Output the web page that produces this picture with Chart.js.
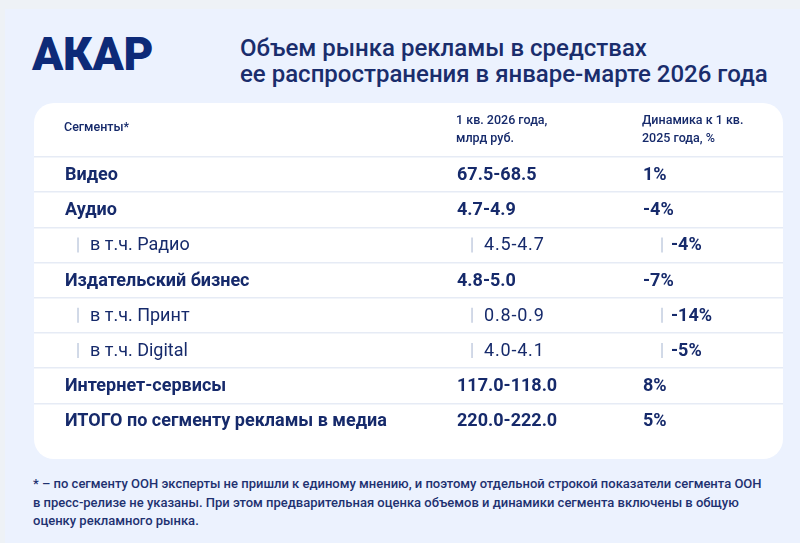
<!DOCTYPE html>
<html lang="ru">
<head>
<meta charset="utf-8">
<title>Объем рынка рекламы в средствах ее распространения в январе-марте 2026 года</title>
<script src="https://cdn.jsdelivr.net/npm/chart.js@4.4.1/dist/chart.umd.min.js"></script>
<style>
  html, body { margin: 0; padding: 0; }
  body {
    width: 800px; height: 543px; overflow: hidden; position: relative;
    background: #eef2f6; font-family: Roboto, "Noto Sans", sans-serif; color: #162a6b;
  }
  .panel { position: absolute; left: 5px; top: 9px; right: 0; bottom: 0; background: #ecf2fe; }
  .logo {
    position: absolute; left: 32px; top: 31px; font-size: 46px; line-height: 46px;
    font-weight: 900; color: #0d2a78; letter-spacing: -0.3px;
  }
  .title {
    position: absolute; left: 240px; top: 35px; font-size: 24px; line-height: 26px;
    font-weight: 500; color: #1a2d6c; white-space: nowrap;
  }
  .card {
    position: absolute; left: 34px; top: 103px; width: 749px; height: 356px;
    background: #ffffff; border-radius: 20px; overflow: hidden;
  }
  .note {
    position: absolute; left: 33px; top: 475px; font-size: 13px; line-height: 18.5px;
    font-weight: 500; color: #1e3170; white-space: nowrap;
  }
</style>
</head>
<body>
<div class="panel"></div>
<div class="logo">АКАР</div>
<div class="title">Объем рынка рекламы в средствах<br>ее распространения в январе-марте 2026 года</div>
<div class="card"><canvas id="marketTable"></canvas></div>
<div class="note">* – по сегменту ООН эксперты не пришли к единому мнению, и поэтому отдельной строкой показатели сегмента ООН<br>в пресс-релизе не указаны. При этом предварительная оценка объемов и динамики сегмента включены в общую<br>оценку рекламного рынка.</div>

<script>
/* ===== Data ===== */
const segments = [
    'Видео',
    'Аудио',
    'в т.ч. Радио',
    'Издательский бизнес',
    'в т.ч. Принт',
    'в т.ч. Digital',
    'Интернет-сервисы',
    'ИТОГО по сегменту рекламы в медиа'
];
const volumeLow  = [67.5, 4.7, 4.5, 4.8, 0.8, 4.0, 117.0, 220.0];
const volumeHigh = [68.5, 4.9, 4.7, 5.0, 0.9, 4.1, 118.0, 222.0];
const dynamics   = [1, -4, -4, -7, -14, -5, 8, 5];
const headers = [
    ['Сегменты*'],
    ['1 кв. 2026 года,', 'млрд руб.'],
    ['Динамика к 1 кв.', '2025 года, %']
];

/* ===== Layout ===== */
const COL_AT   = [4.14, 56.48, 81.31];   // column start, % of card width
const SUB_BAR  = [13, 15, 19];           // px indent of the "|" in sub rows
const SUB_TEXT = [25, 27, 28];           // px indent of sub row text
const TEXT_COLOR = '#162a6b';
const BAR_COLOR = '#c3cde0';
const FONT = 'Roboto, "Noto Sans", sans-serif';

const isSub = i => segments[i].startsWith('в т.ч.');

function cellText(col, i){
    if(col === 0) return segments[i];
    if(col === 1) return volumeLow[i].toFixed(1) + '-' + volumeHigh[i].toFixed(1);
    return dynamics[i] + '%';
}

function cellWeight(col, i){
    if(!isSub(i)) return 'bold';
    return col === 2 ? 'bold' : 'normal';
}

/* ===== Cell text plugin ===== */
const tableText = {
    id: 'tableText',
    afterDatasetsDraw(chart){
        const ctx = chart.ctx;
        const x = chart.scales.x;
        ctx.save();
        ctx.textAlign = 'left';
        ctx.textBaseline = 'middle';
        ctx.fillStyle = TEXT_COLOR;

        // header
        ctx.font = '500 12.5px ' + FONT;
        headers.forEach((lines, c) => {
            const px = x.getPixelForValue(COL_AT[c]) - 1;
            const top = chart.chartArea.top;
            if(lines.length === 1){
                ctx.fillText(lines[0], px, top - 29);
            } else {
                ctx.fillText(lines[0], px, top - 36);
                ctx.fillText(lines[1], px, top - 18);
            }
        });

        // cells
        chart.data.datasets.forEach((ds, c) => {
            const meta = chart.getDatasetMeta(c);
            meta.data.forEach((pt, i) => {
                let px = pt.x;
                if(isSub(i)){
                    ctx.strokeStyle = BAR_COLOR;
                    ctx.lineWidth = 1.5;
                    ctx.beginPath();
                    ctx.moveTo(px + SUB_BAR[c], pt.y - 7.5);
                    ctx.lineTo(px + SUB_BAR[c], pt.y + 7.5);
                    ctx.stroke();
                    px += SUB_TEXT[c];
                }
                const weight = cellWeight(c, i);
                ctx.font = weight + ' 18px ' + FONT;
                ctx.letterSpacing = (c === 1 && weight === 'normal') ? '0.8px' : '0px';
                ctx.fillText(cellText(c, i), px, pt.y + 1);
            });
        });
        ctx.restore();
    }
};

/* ===== Chart ===== */
const rowIndex = segments.map((s, i) => i);

const marketTable = new Chart(document.getElementById('marketTable'), {
    type: 'scatter',
    data: {
        datasets: COL_AT.map((at, c) => ({
            label: 'col' + c,
            data: rowIndex.map(i => ({x: at, y: i})),
            pointRadius: 0,
            pointHoverRadius: 0
        }))
    },
    options: {
        responsive: true,
        maintainAspectRatio: false,
        animation: false,
        events: [],
        layout: { padding: { top: 54, bottom: 20.5, left: 0, right: 0 } },
        plugins: { legend: { display: false }, tooltip: { enabled: false } },
        scales: {
            x: { type: 'linear', min: 0, max: 100, display: false },
            y: {
                type: 'category',
                labels: segments,
                offset: true,
                border: { display: false },
                ticks: { display: false },
                grid: {
                    offset: true,
                    drawTicks: false,
                    lineWidth: 1.5,
                    color: ctx => ctx.type === 'tick' ? '#e6ebf5' : 'transparent'
                },
                afterFit: scale => { scale.width = 0; }
            }
        }
    },
    plugins: [tableText]
});
</script>
</body>
</html>
